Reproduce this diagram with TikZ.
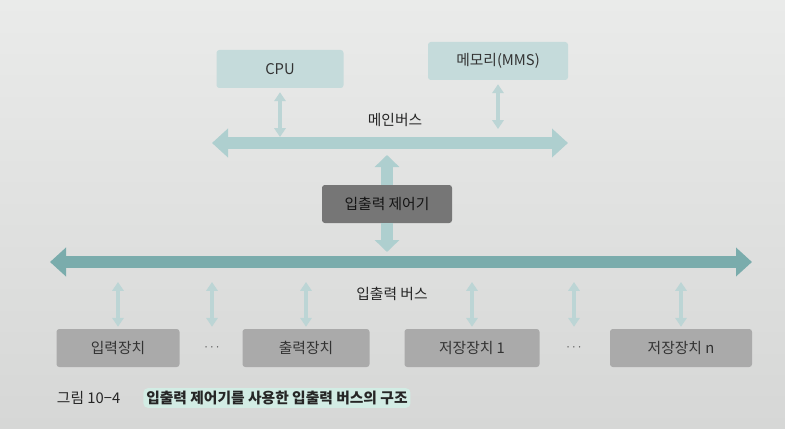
\documentclass[tikz,border=0pt]{standalone}
\usepackage{fontspec}
\setmainfont{Noto Sans CJK KR}
\usetikzlibrary{arrows.meta,positioning}
\definecolor{paper}{RGB}{234,235,234}
\definecolor{paperdark}{RGB}{214,215,214}
\definecolor{boxteal}{RGB}{197,219,219}
\definecolor{busdark}{RGB}{122,172,172}
\definecolor{buspale}{RGB}{174,207,207}
\definecolor{linkteal}{RGB}{188,213,213}
\definecolor{ctlgray}{RGB}{118,118,118}
\definecolor{ctltext}{RGB}{20,20,20}
\definecolor{devgray}{RGB}{170,170,170}
\definecolor{hilite}{RGB}{210,236,228}

\begin{document}
\begin{tikzpicture}[
  box/.style={rectangle, rounded corners=2pt, minimum height=0.95cm, align=center, font=\fontsize{10.5}{12}\selectfont, text=black!80},
  bus/.style={line width=0.3cm, {Triangle[length=0.4cm,width=0.7cm]}-{Triangle[length=0.4cm,width=0.7cm]}},
  link/.style={line width=2.4pt, linkteal, {Triangle[length=2.2mm,width=2.8mm]}-{Triangle[length=2.2mm,width=2.8mm]}},
  fat/.style={line width=0.3cm, buspale, -{Triangle[length=0.3cm,width=0.6cm]}},
  lbl/.style={font=\fontsize{10.5}{12}\selectfont, text=black!85}
]
\shade[top color=paper, bottom color=paperdark] (0,0) rectangle (19.625,10.7);
\useasboundingbox (0,0) rectangle (19.625,10.7);

\node[box, fill=boxteal, minimum width=3.175cm] (cpu) at (7.0,8.975) {CPU};
\node[box, fill=boxteal, minimum width=3.5cm] (mem) at (12.45,9.175) {메모리(MMS)};

\coordinate (mbw) at (5.3,7.125);
\coordinate (mbe) at (14.2,7.125);
\draw[bus, buspale] (mbw) -- (mbe);
\node[lbl] (mainlbl) at (9.875,7.7) {메인버스};

\node[box, fill=ctlgray, minimum width=3.25cm, text=ctltext] (ctl) at (9.675,5.6) {\color{ctltext}입출력 제어기};

\coordinate (iobw) at (1.25,4.15);
\coordinate (iobe) at (18.8,4.15);
\draw[bus, busdark] (iobw) -- (iobe);
\node[lbl] (iolbl) at (9.8,3.35) {입출력 버스};

\node[box, fill=devgray, minimum width=3.075cm] (indev) at (2.95,2.0) {입력장치};
\node[font=\small, text=black!70] (dots1) at (5.3,2.0) {$\cdots$};
\node[box, fill=devgray, minimum width=3.175cm] (outdev) at (7.65,2.0) {출력장치};
\node[box, fill=devgray, minimum width=3.375cm] (stor1) at (11.8,2.0) {저장장치 1};
\node[font=\small, text=black!70] (dots2) at (14.35,2.0) {$\cdots$};
\node[box, fill=devgray, minimum width=3.55cm] (storn) at (17.025,2.0) {저장장치 n};

\draw[link, shorten <=0.1cm, shorten >=0.15cm] (cpu) -- (cpu |- mbw);
\draw[link, shorten <=0.1cm, shorten >=0.35cm] (mem) -- (mem |- mbw);

\draw[fat, shorten >=0.3cm] (ctl) -- (ctl |- mbw);
\draw[fat, shorten >=0.25cm] (ctl) -- (ctl |- iobw);

\draw[link, shorten <=0.05cm, shorten >=0.5cm] (indev) -- (indev |- iobw);
\draw[link, shorten <=0.05cm, shorten >=0.5cm] (dots1 |- indev.north) -- (dots1 |- iobw);
\draw[link, shorten <=0.05cm, shorten >=0.5cm] (outdev) -- (outdev |- iobw);
\draw[link, shorten <=0.05cm, shorten >=0.5cm] (stor1) -- (stor1 |- iobw);
\draw[link, shorten <=0.05cm, shorten >=0.5cm] (dots2 |- stor1.north) -- (dots2 |- iobw);
\draw[link, shorten <=0.05cm, shorten >=0.5cm] (storn) -- (storn |- iobw);

\node[lbl, anchor=west] (fignum) at (1.3,0.75) {그림 10−4};
\node[lbl, anchor=west, font=\fontsize{10.5}{12}\selectfont\bfseries, fill=hilite, rounded corners=3pt, inner sep=2pt, right=0.45cm of fignum] (figtitle) {입출력 제어기를 사용한 입출력 버스의 구조};
\end{tikzpicture}
\end{document}
